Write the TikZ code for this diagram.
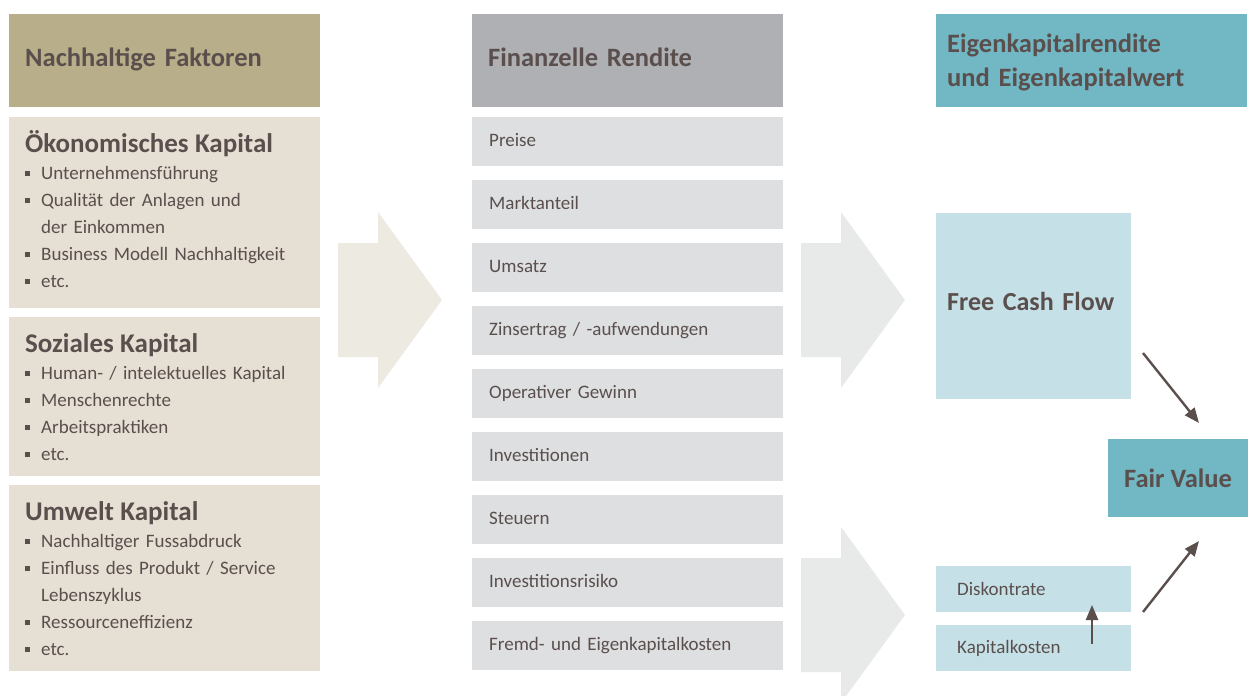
\documentclass[tikz,border=0pt]{standalone}
\usepackage{fontspec}
\setmainfont{Carlito}
\usepackage{xcolor}
\usetikzlibrary{arrows.meta}
\definecolor{Sust_Khaki}{HTML}{B8AF8A}
\definecolor{Sust_Sand}{HTML}{E6DFD4}
\definecolor{Fin_Grey}{HTML}{AEB0B3}
\definecolor{Fin_Light}{HTML}{DEDFE1}
\definecolor{Val_Teal}{HTML}{72B7C4}
\definecolor{Val_Light}{HTML}{C5E0E6}
\definecolor{Txt_Brown}{HTML}{5A4F4D}
\definecolor{Flow_Beige}{HTML}{EDEAE2}
\definecolor{Flow_Grey}{HTML}{E8E9E9}
\newcommand{\bul}{\makebox[16bp][l]{\rule[0.16em]{5bp}{5bp}}}
\newcommand{\cont}{\hspace*{16bp}}
\newcommand{\capt}[1]{{\bfseries\fontsize{27bp}{31bp}\selectfont #1\par}}
\newcommand{\lift}{\par\vspace*{8bp}} % extra room below the last bullet

\begin{document}
\begin{tikzpicture}[x=1bp, y=-1bp,
  every node/.style={text=Txt_Brown, anchor=north west, align=left},
  head/.style={fill=#1, minimum width=311bp, minimum height=93bp,
    inner xsep=16bp, text width=279bp, text height=20bp, text depth=9bp,
    font=\bfseries\fontsize{26.5bp}{34bp}\selectfont},
  sbox/.style={fill=Sust_Sand, minimum width=311bp, minimum height=#1,
    inner xsep=16bp, text width=279bp,
    font=\fontsize{19bp}{27bp}\selectfont},
  item/.style={fill=Fin_Light, minimum width=311bp, minimum height=49bp,
    inner xsep=17bp, text width=277bp, text height=14bp, text depth=5bp,
    font=\fontsize{19bp}{22bp}\selectfont},
  vbox/.style={fill=Val_Light, minimum width=195bp, minimum height=#1,
    inner xsep=11bp, text width=173bp},
  arr/.style={-{Triangle[length=15bp, width=12bp]}, line width=2.4bp, Txt_Brown}
]
  \useasboundingbox (0,0) rectangle (1253,696);

  % Block arrows between the columns
  \foreach \ax/\ay/\col in {338/300/Flow_Beige, 801/300/Flow_Grey, 801/615/Flow_Grey} {
    \fill[\col, shift={(\ax,\ay)}] (0,-57) -- (40,-57) -- (40,-88) -- (104,0)
      -- (40,88) -- (40,57) -- (0,57) -- cycle;
  }

  % Column headers
  \node[head=Sust_Khaki] (hdfakt) at (9,14) {Nachhaltige Faktoren};
  \node[head=Fin_Grey] (hdrend) at (472,14) {Finanzelle Rendite};
  \node[head=Val_Teal, inner xsep=11bp, text width=289bp, text depth=36bp]
    (hdwert) at (936,14) {Eigenkapitalrendite\\und Eigenkapitalwert};

  % Sustainability capital
  \node[sbox=191bp] (oek) at (9,117) {\capt{Ökonomisches Kapital}
    \bul Unternehmensführung\\
    \bul Qualität der Anlagen und\\
    \cont der Einkommen\\
    \bul Business Modell Nachhaltigkeit\\
    \bul etc.\lift};
  \node[sbox=159bp] (soz) at (9,317) {\capt{Soziales Kapital}
    \bul Human- / intelektuelles Kapital\\
    \bul Menschenrechte\\
    \bul Arbeitspraktiken\\
    \bul etc.};
  \node[sbox=186bp] (umw) at (9,485) {\capt{Umwelt Kapital}
    \bul Nachhaltiger Fussabdruck\\
    \bul Einfluss des Produkt / Service\\
    \cont Lebenszyklus\\
    \bul Ressourceneffizienz\\
    \bul etc.};

  % Financial return drivers
  \foreach \txt [count=\i from 0] in {Preise, Marktanteil, Umsatz,
      Zinsertrag / -aufwendungen, Operativer Gewinn, Investitionen, Steuern,
      Investitionsrisiko, Fremd- und Eigenkapitalkosten} {
    \node[item] (fin\i) at (472,117+63*\i) {\txt};
  }

  % Equity value
  \node[vbox=186bp, text height=20bp, text depth=12bp,
    font=\bfseries\fontsize{26bp}{30bp}\selectfont] (fcf) at (936,213)
    {Free Cash Flow};
  \node[fill=Val_Teal, minimum width=140bp, minimum height=78bp, anchor=center,
    align=center, font=\bfseries\fontsize{26.5bp}{30bp}\selectfont] (fv) at (1178,478)
    {Fair Value};
  \node[vbox=46bp, inner xsep=21bp, text width=153bp,
    font=\fontsize{19bp}{22bp}\selectfont] (disk) at (936,566) {Diskontrate};
  \node[vbox=46bp, inner xsep=21bp, text width=153bp,
    font=\fontsize{19bp}{22bp}\selectfont] (kap) at (936,625) {Kapitalkosten};

  % Value arrows
  \coordinate (fcfout) at (1143,353);
  \coordinate (fvtop) at (1199,423);
  \coordinate (diskout) at (1143,612);
  \coordinate (fvbot) at (1199,541);
  \coordinate (kapup) at (1092,644);
  \coordinate (diskin) at (1092,605);
  \draw[arr] (fcfout) -- (fvtop);
  \draw[arr] (diskout) -- (fvbot);
  \draw[arr] (kapup) -- (diskin);
\end{tikzpicture}
\end{document}
